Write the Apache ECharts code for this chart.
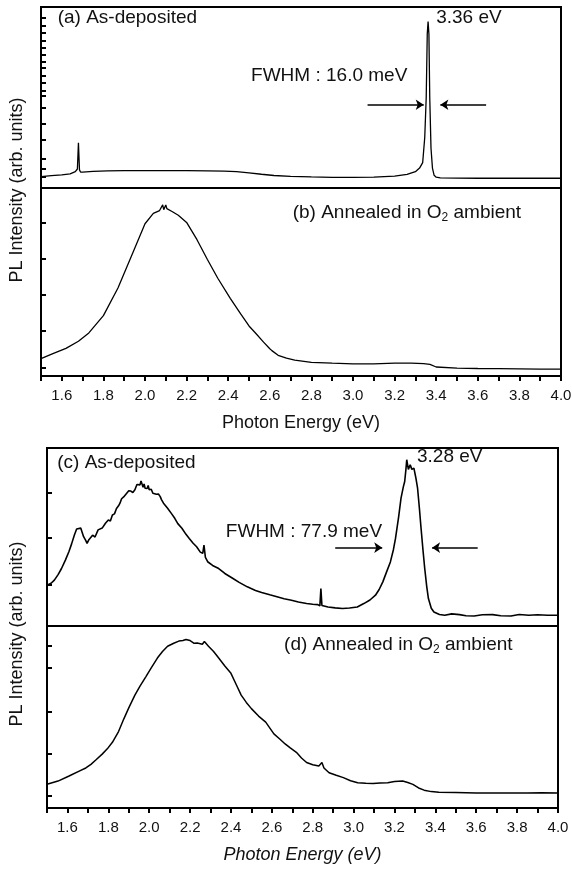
<!DOCTYPE html>
<html>
<head>
<meta charset="utf-8">
<script src="https://cdn.jsdelivr.net/npm/echarts@6/dist/echarts.min.js"></script>
<style>
html, body { margin: 0; padding: 0; background: #fff; }
#chart { width: 572px; height: 871px; }
</style>
</head>
<body>
<div id="chart"></div>
<script>
// photon energy (eV) and PL intensity (arb., 0-100 inside each panel)
var aEnergy = [1.50,1.55,1.60,1.64,1.665,1.675,1.68,1.685,1.69,1.70,1.75,1.82,1.90,2.00,2.10,2.20,2.30,2.38,2.44,2.50,2.56,2.62,2.70,2.80,2.90,3.00,3.10,3.20,3.26,3.30,3.32,3.335,3.345,3.352,3.357,3.361,3.365,3.369,3.375,3.382,3.39,3.40,3.42,3.50,3.60,3.70,3.80,3.90,4.00];
var aIntensity = [6.3,6.8,7.3,7.8,9,10.5,25,10,8.8,8.8,9.2,9.5,9.6,9.6,9.6,9.6,9.5,9.3,9,8.4,7.6,6.9,6.4,6.1,5.9,5.9,6.0,6.6,7.5,9,11,14,28,50,85,92,85,50,22,11,7,6,5.6,5.5,5.4,5.4,5.4,5.4,5.4];

var bEnergy = [1.50,1.56,1.62,1.68,1.73,1.80,1.87,1.94,2.00,2.04,2.07,2.085,2.09,2.10,2.105,2.11,2.13,2.16,2.20,2.25,2.30,2.35,2.41,2.46,2.50,2.53,2.57,2.60,2.605,2.61,2.64,2.68,2.72,2.80,2.90,3.00,3.10,3.20,3.28,3.34,3.37,3.40,3.50,3.60,3.70,3.80,3.90,4.00];
var bIntensity = [9.2,12,14.7,18.5,22.9,32.1,46.8,65.1,81,86.5,88,91,88.5,91,89,88.5,87.5,85.5,81.7,72.5,62,52,41.3,33,26.6,23,18,14.5,15.5,13.5,11,9.5,8.4,7.3,6.8,6.4,6.5,6.8,6.9,6.6,6.2,4.8,4.2,4.0,3.9,3.8,3.7,3.7];

var cEnergy = [1.50,1.52,1.536,1.555,1.571,1.59,1.607,1.62,1.634,1.645,1.652,1.665,1.679,1.69,1.696,1.705,1.723,1.735,1.75,1.77,1.786,1.80,1.81,1.82,1.83,1.84,1.85,1.857,1.865,1.875,1.88,1.89,1.90,1.91,1.92,1.93,1.94,1.945,1.955,1.96,1.97,1.975,1.98,1.99,1.995,2.00,2.01,2.018,2.025,2.035,2.045,2.054,2.06,2.07,2.09,2.11,2.125,2.14,2.16,2.18,2.196,2.215,2.232,2.25,2.262,2.268,2.275,2.286,2.31,2.34,2.37,2.41,2.44,2.48,2.52,2.55,2.59,2.625,2.66,2.696,2.73,2.77,2.80,2.825,2.835,2.84,2.845,2.875,2.91,2.946,2.98,3.018,3.05,3.08,3.107,3.125,3.143,3.16,3.18,3.195,3.205,3.22,3.232,3.243,3.25,3.256,3.26,3.268,3.277,3.285,3.295,3.305,3.313,3.322,3.33,3.34,3.348,3.358,3.366,3.38,3.393,3.42,3.446,3.48,3.518,3.55,3.59,3.63,3.68,3.72,3.77,3.81,3.857,3.90,3.95,4.00];
var cIntensity = [22.9,24,25.8,29,32.3,37,41.7,46,51.1,54.5,53.9,55,50.2,48,46.4,48.5,51,50,54,55,57.7,59.5,59,62.4,63,66,67.5,69,71.5,72.5,71.8,74.6,76,75.8,75,76.5,79.5,78.5,79.3,81.5,78,79.8,77.4,77.2,79,76.5,76.8,74.6,73.5,74,74.2,72.7,71,69,66.2,63,60.5,57.5,54.9,51.5,49.2,46.5,44.5,41.5,40.8,45.5,38.5,36.1,34,32.3,29.5,26.7,24.5,22,20,18.8,17.5,16.4,15.3,14.5,13.5,12.6,12.2,12,11.3,21,11.5,10.7,10.2,9.8,10.1,10.7,12.6,14.6,17.3,20.5,24.8,30,36,43,49.2,61,71.8,78,81.2,88,93.4,88,90.6,88,88.7,83,77.4,66,54.9,42,32.3,22,15.4,10,7.9,6.5,6,6.8,6.4,5.8,5.6,6.3,6.4,5.8,5.6,6.5,6,6.3,6,6];

var dEnergy = [1.50,1.554,1.608,1.66,1.69,1.715,1.74,1.77,1.795,1.82,1.85,1.876,1.90,1.93,1.955,1.984,2.01,2.04,2.065,2.09,2.12,2.145,2.165,2.18,2.20,2.22,2.235,2.26,2.27,2.29,2.315,2.34,2.37,2.40,2.425,2.45,2.475,2.50,2.535,2.57,2.61,2.64,2.665,2.69,2.72,2.745,2.77,2.80,2.83,2.845,2.855,2.88,2.915,2.95,2.985,3.02,3.06,3.095,3.13,3.167,3.20,3.24,3.265,3.29,3.318,3.345,3.38,3.417,3.50,3.60,3.70,3.776,3.85,3.92,4.00];
var dIntensity = [13,14.8,17.6,20.4,22,24,26.5,29.6,32.5,36.1,42,49,55,62,67,72.2,77,82.4,86,88.9,90.5,91.7,92,92.6,92,90.5,90.7,90,91.5,88.9,86,82.4,78,74,68,62,58,54.6,50.5,47.2,40.7,37.8,35.2,33,30.6,27.5,25,23.8,23.1,25,22,19.4,18,16.7,15,13.9,13.6,13.5,13.8,13.9,14.5,14.8,14,13,11,9.8,9,8.7,8.5,8.3,8.3,8.3,8.2,8.4,8.3];

// inward tick marks on the left axes
var aTicks = [6.3,10.7,16,26.8,35.7,44.6,50.8,54,58,61.9,66.3,69.6,73.5,77.3,81.2,85.6,89.5,94];
var bTicks = [4.6,23.9,43.1,62.4,81.7];
var cTicks = [22.9,49.6,74.6];
var dTicks = [6.5,29.6,52.8,76.9,88.9];

// FWHM arrows: [from energy, to energy] at a level
var aFwhmArrows = [[3.07, 3.34], [3.64, 3.42]];
var aArrowLevel = 46;
var cFwhmArrows = [[2.91, 3.14], [3.607, 3.384]];
var cArrowLevel = 44;

var xMin = 1.5, xMax = 4.0;

function pairs(xs, ys) {
    var out = [];
    for (var i = 0; i < xs.length; i++) out.push([xs[i], ys[i]]);
    return out;
}

var FONT = 'Liberation Sans, Arial, sans-serif';

var grids = [
    {left: 41, right: 11, top: 7, height: 181},
    {left: 41, right: 11, top: 188, height: 188},
    {left: 47, right: 14, top: 448, height: 178},
    {left: 47, right: 14, top: 626, height: 182}
].map(function (g) {
    g.show = true;
    g.borderColor = '#000';
    g.borderWidth = 2;
    g.containLabel = false;
    g.outerBoundsMode = 'none';
    return g;
});

function xAxis(i, bottom, italic) {
    var ax = {
        gridIndex: i, type: 'value', min: xMin, max: xMax, interval: 0.1,
        splitLine: {show: false},
        axisLine: {show: true, lineStyle: {color: '#000', width: 2}},
        axisTick: {show: bottom, inside: false, length: 5, lineStyle: {color: '#000', width: 2}},
        axisLabel: {show: false}
    };
    if (bottom) {
        ax.axisLabel = {
            show: true, color: '#111', fontSize: 15, fontFamily: FONT, margin: 12,
            showMinLabel: true, showMaxLabel: true,
            formatter: function (v) {
                var t = Math.round(v * 10);
                return t % 2 === 0 && t >= 16 ? (t / 10).toFixed(1) : '';
            }
        };
        ax.name = 'Photon Energy (eV)';
        ax.nameLocation = 'middle';
        ax.nameGap = 38;
        ax.nameTextStyle = {color: '#111', fontSize: 18, fontFamily: FONT, fontStyle: italic ? 'italic' : 'normal'};
    }
    return ax;
}

function yAxis(i, ticks) {
    return {
        gridIndex: i, type: 'value', min: 0, max: 100,
        splitLine: {show: false},
        axisLine: {show: true, lineStyle: {color: '#000', width: 2}},
        axisTick: {show: true, inside: true, length: 5, customValues: ticks, lineStyle: {color: '#000', width: 2}},
        axisLabel: {show: false}
    };
}

function arrowLines(list, level) {
    return list.map(function (a) {
        return [{coord: [a[0], level]}, {coord: [a[1], level]}];
    });
}

function lineSeries(i, xs, ys, width, arrows, level) {
    var s = {
        type: 'line', xAxisIndex: i, yAxisIndex: i,
        data: pairs(xs, ys), showSymbol: false, symbol: 'none',
        lineStyle: {color: '#000', width: width}, silent: true
    };
    if (arrows) {
        s.markLine = {
            silent: true, symbol: ['none', 'arrow'], symbolSize: 8,
            label: {show: false},
            lineStyle: {color: '#000', width: 1.5, type: 'solid'},
            data: arrowLines(arrows, level)
        };
    }
    return s;
}

var chart = echarts.init(document.getElementById('chart'), null, {renderer: 'canvas'});
chart.setOption({
    animation: false,
    backgroundColor: '#fff',
    grid: grids,
    xAxis: [xAxis(0, false), xAxis(1, true, false), xAxis(2, false), xAxis(3, true, true)],
    yAxis: [yAxis(0, aTicks), yAxis(1, bTicks), yAxis(2, cTicks), yAxis(3, dTicks)],
    series: [
        lineSeries(0, aEnergy, aIntensity, 1.3, aFwhmArrows, aArrowLevel),
        lineSeries(1, bEnergy, bIntensity, 1.3),
        lineSeries(2, cEnergy, cIntensity, 1.6, cFwhmArrows, cArrowLevel),
        lineSeries(3, dEnergy, dIntensity, 1.5)
    ]
});

// text labels: [grid, energy at left edge, level, text]
var notes = [
    [0, 1.58, 94, '(a) As-deposited'],
    [0, 3.40, 94, '3.36 eV'],
    [0, 2.51, 62, 'FWHM : 16.0 meV'],
    [1, 2.71, 87, '(b) Annealed in O{sub|2} ambient'],
    [2, 1.55, 91.5, '(c) As-deposited'],
    [2, 3.31, 95, '3.28 eV'],
    [2, 2.375, 53, 'FWHM : 77.9 meV'],
    [3, 2.66, 89.5, '(d) Annealed in O{sub|2} ambient']
];

var graphics = notes.map(function (n) {
    var p = chart.convertToPixel({gridIndex: n[0]}, [n[1], n[2]]);
    return {
        type: 'text', x: p[0], y: p[1], silent: true,
        style: {
            text: n[3], fill: '#111', fontSize: 19, fontFamily: FONT,
            verticalAlign: 'middle', align: 'left', lineHeight: 22,
            rich: {sub: {fontSize: 12, fontFamily: FONT, fill: '#111', verticalAlign: 'bottom', lineHeight: 22}}
        }
    };
});

[190, 634].forEach(function (cy) {
    graphics.push({
        type: 'text', x: 17, y: cy, rotation: Math.PI / 2, silent: true,
        style: {
            text: 'PL Intensity (arb. units)', fill: '#111', fontSize: 18, fontFamily: FONT,
            align: 'center', verticalAlign: 'middle'
        }
    });
});

chart.setOption({graphic: graphics});
</script>
</body>
</html>
